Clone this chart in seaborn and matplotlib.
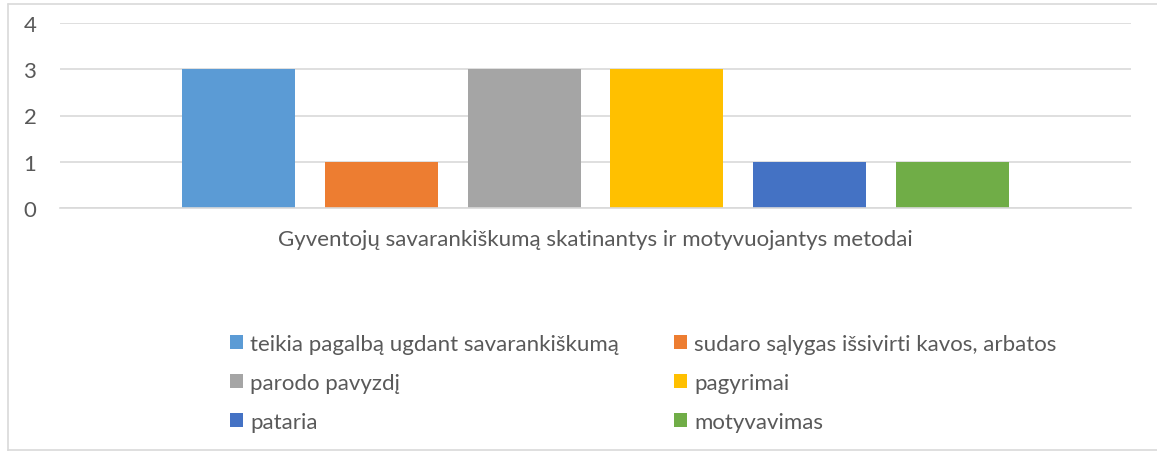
import matplotlib
matplotlib.use("Agg")
import matplotlib.pyplot as plt
from matplotlib.lines import Line2D
import pandas as pd
import seaborn as sns

# data
group = "Gyventojų savarankiškumą skatinantys ir motyvuojantys metodai"
methods = ["teikia pagalbą ugdant savarankiškumą",
           "sudaro sąlygas išsivirti kavos, arbatos",
           "parodo pavyzdį",
           "pagyrimai",
           "pataria",
           "motyvavimas"]
counts = [3, 1, 3, 3, 1, 1]
colors = ["#5B9BD5", "#ED7D31", "#A5A5A5", "#FFC000", "#4472C4", "#70AD47"]
yticks = [0, 1, 2, 3, 4]

df = pd.DataFrame({"group": [group] * len(methods), "method": methods, "count": counts})

sns.set_style("white")
plt.rcParams["font.family"] = ["Lato", "DejaVu Sans"]
txt = "#595959"
fs = 16

fig = plt.figure(figsize=(11.57, 4.52), dpi=100)
ax = fig.add_axes([60 / 1157, 243 / 452, (1131 - 60) / 1157, (209 - 24) / 452])

sns.barplot(data=df, x="group", y="count", hue="method", hue_order=methods,
            palette=colors, width=0.8, gap=0.21, saturation=1, linewidth=0,
            ax=ax, legend=True)

ax.set_xlim(-0.5, 0.5)
ax.set_ylim(0, 4)
ax.set_yticks(yticks)
ax.yaxis.grid(True, color="#D9D9D9", linewidth=1.2)
ax.set_axisbelow(True)
for s in ["left", "right", "top"]:
    ax.spines[s].set_visible(False)
ax.spines["bottom"].set_color("#D9D9D9")
ax.spines["bottom"].set_linewidth(1.2)
ax.tick_params(axis="y", length=0, pad=17, labelsize=fs, labelcolor=txt)
ax.tick_params(axis="x", length=0, pad=15, labelsize=fs, labelcolor=txt)
ax.set_xlabel("")
ax.set_ylabel("")

# legend in two columns filled row by row
handles, labels = ax.get_legend_handles_labels()
ax.get_legend().remove()
kw = dict(frameon=False, fontsize=fs, labelcolor=txt, handlelength=0.6,
          handleheight=0.6, handletextpad=0.3, labelspacing=0.85,
          borderaxespad=0, loc="upper left")
leg1 = fig.legend(handles[0::2], labels[0::2], bbox_to_anchor=(221 / 1157, 1 - 326 / 452), **kw)
leg2 = fig.legend(handles[1::2], labels[1::2], bbox_to_anchor=(665 / 1157, 1 - 326 / 452), **kw)

# chart area border
border = "#D9D9D9"
fig.add_artist(Line2D([8 / 1157, 8 / 1157], [0, 1 - 5 / 452], color=border, lw=1.2))
fig.add_artist(Line2D([8 / 1157, 1], [1 - 5 / 452, 1 - 5 / 452], color=border, lw=1.2))
fig.add_artist(Line2D([8 / 1157, 1], [1 / 452, 1 / 452], color=border, lw=1.2))

fig.savefig("out.png", dpi=100)
